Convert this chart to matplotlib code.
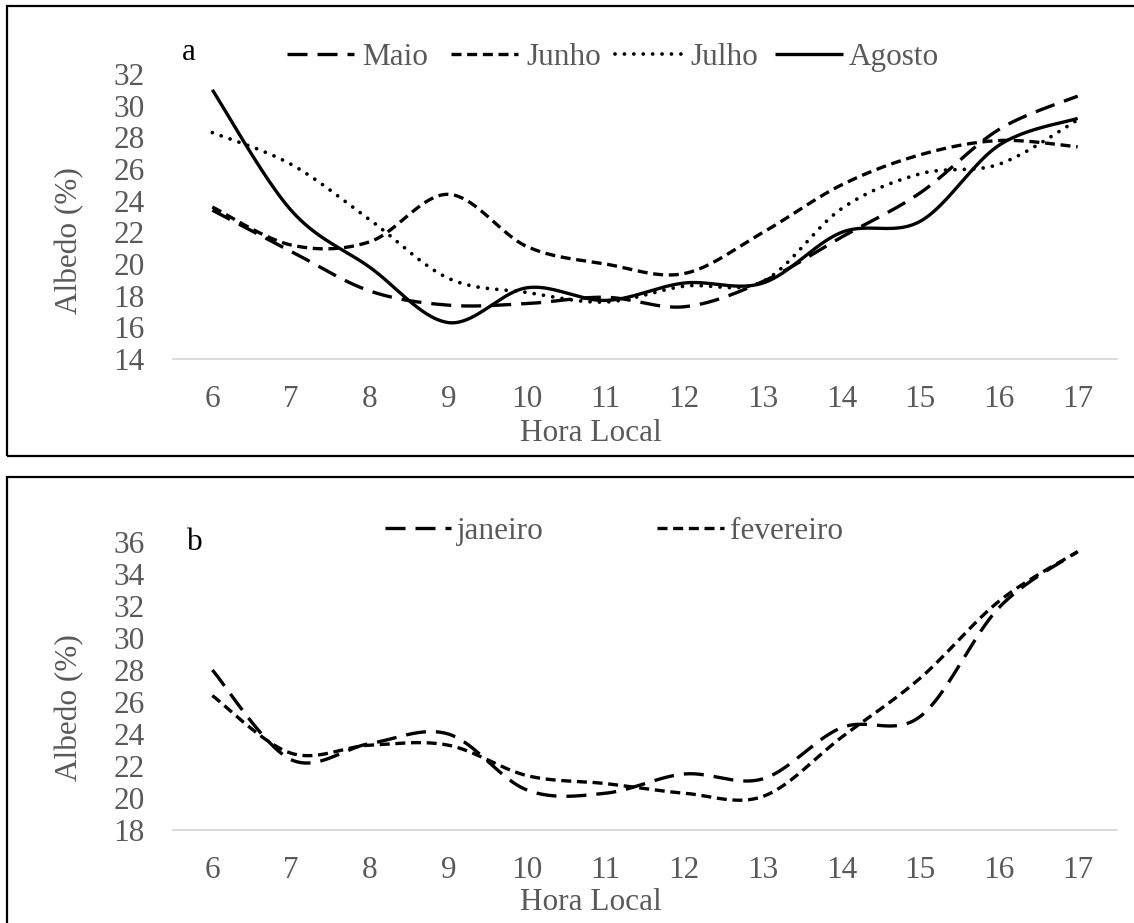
import numpy as np
import matplotlib
matplotlib.use("Agg")
import matplotlib.pyplot as plt
from matplotlib.lines import Line2D
from matplotlib.patches import Rectangle

# ---- data -------------------------------------------------------------
hours = list(range(6, 18))

# panel a (dry season months)
maio = [23.4, 20.8, 18.3, 17.4, 17.5, 17.9, 17.3, 18.9, 21.7, 24.5, 28.5, 30.6]
junho = [23.6, 21.2, 21.4, 24.4, 21.1, 20.0, 19.4, 22.0, 25.0, 26.9, 27.8, 27.4]
julho = [28.3, 26.3, 22.8, 19.1, 18.2, 17.6, 18.6, 18.9, 23.5, 25.7, 26.3, 29.1]
agosto = [31.0, 23.4, 19.8, 16.3, 18.5, 17.7, 18.8, 18.8, 22.0, 22.7, 27.5, 29.2]

# panel b (wet season months)
janeiro = [28.0, 22.4, 23.4, 24.0, 20.5, 20.3, 21.5, 21.2, 24.4, 25.1, 31.9, 35.4]
fevereiro = [26.4, 22.8, 23.3, 23.3, 21.4, 20.9, 20.3, 20.1, 23.8, 27.5, 32.3, 35.4]

yticks_a = list(range(14, 33, 2))
yticks_b = list(range(18, 37, 2))

# ---- styling ----------------------------------------------------------
plt.rcParams["font.family"] = ["Liberation Serif", "DejaVu Serif"]
FS = 22.5
GRAY = "#595959"
LW = 2.4

STYLES = {
    "long": dict(lw=LW, dashes=(6, 3)),
    "short": dict(lw=LW, dashes=(3, 1.7)),
    "dot": dict(lw=2.7, dashes=(0.01, 2.5), dash_capstyle="round"),
    "solid": dict(lw=LW, linestyle="-"),
}

W, H, DPI = 1134, 923, 100
fig = plt.figure(figsize=(W / DPI, H / DPI), dpi=DPI)
fig.patch.set_facecolor("white")


def fx(px):
    return px / W


def fy(py):
    return 1 - py / H


def smooth(x, y, n=40):
    """Smoothed line through the points (cubic Bezier, Catmull-Rom tangents)."""
    P = np.column_stack([np.asarray(x, float), np.asarray(y, float)])
    E = np.vstack([P[0], P, P[-1]])
    t = np.linspace(0, 1, n)[:, None]
    parts = []
    for i in range(len(P) - 1):
        p0, p1, p2, p3 = E[i], E[i + 1], E[i + 2], E[i + 3]
        c1 = p1 + (p2 - p0) / 6.0
        c2 = p2 - (p3 - p1) / 6.0
        seg = ((1 - t) ** 3) * p1 + 3 * ((1 - t) ** 2) * t * c1 \
            + 3 * (1 - t) * t ** 2 * c2 + t ** 3 * p2
        parts.append(seg if i == 0 else seg[1:])
    s = np.vstack(parts)
    return s[:, 0], s[:, 1]


def make_axes(top_px, bottom_px, yticks):
    ax = fig.add_axes([fx(173), fy(bottom_px), (1117 - 173) / W,
                       (bottom_px - top_px) / H])
    ax.set_xlim(5.5, 17.5)
    ax.set_ylim(yticks[0], yticks[-1])
    for s in ("top", "right", "left"):
        ax.spines[s].set_visible(False)
    ax.spines["bottom"].set_color("#d9d9d9")
    ax.spines["bottom"].set_linewidth(1.3)
    ax.set_xticks(hours)
    ax.set_yticks(yticks)
    ax.tick_params(axis="both", length=0, labelsize=FS, colors=GRAY)
    ax.tick_params(axis="x", pad=18.5)
    ax.tick_params(axis="y", pad=20.5)
    ax.patch.set_alpha(0)
    return ax


def draw_series(ax, values, style):
    xs, ys = smooth(hours, values)
    ax.plot(xs, ys, color="black", clip_on=False,
            solid_capstyle="butt", **STYLES[style])


def legend_entry(x0, x1, y, text_x, baseline, label, style):
    fig.add_artist(Line2D([fx(x0), fx(x1)], [fy(y), fy(y)], color="black",
                          solid_capstyle="butt", **STYLES[style]))
    fig.text(fx(text_x), fy(baseline), label, fontsize=FS, color=GRAY,
             ha="left", va="baseline")


def frame(x0, y0, x1, y1):
    fig.add_artist(Rectangle((fx(x0), fy(y1)), fx(x1) - fx(x0), fy(y0) - fy(y1),
                             fill=False, edgecolor="black", lw=1.6,
                             transform=fig.transFigure))


# ---- panel a ----------------------------------------------------------
frame(7, 6, 1140, 456)
ax_a = make_axes(74, 359, yticks_a)
for vals, st in ((maio, "long"), (junho, "short"), (julho, "dot"), (agosto, "solid")):
    draw_series(ax_a, vals, st)

fig.text(fx(182), fy(60), "a", fontsize=FS, color="black", ha="left", va="baseline")
legend_entry(287, 354, 54, 362, 65, "Maio", "long")
legend_entry(451, 518, 54, 526, 65, "Junho", "short")
legend_entry(615, 681, 54, 690, 65, "Julho", "dot")
legend_entry(775, 843, 54, 849, 65, "Agosto", "solid")

fig.text(fx(70), fy(241), "Albedo (%)", rotation=90, fontsize=FS, color=GRAY,
         ha="center", va="center")
fig.text(fx(591), fy(433), "Hora Local", fontsize=FS, color=GRAY,
         ha="center", va="center")

# ---- panel b ----------------------------------------------------------
frame(7, 477, 1140, 935)
ax_b = make_axes(542, 830, yticks_b)
for vals, st in ((janeiro, "long"), (fevereiro, "short")):
    draw_series(ax_b, vals, st)

fig.text(fx(187), fy(550), "b", fontsize=FS, color="black", ha="left", va="baseline")
legend_entry(385, 451, 528, 457, 539, "janeiro", "long")
legend_entry(657, 724, 528, 730, 539, "fevereiro", "short")

fig.text(fx(70), fy(708), "Albedo (%)", rotation=90, fontsize=FS, color=GRAY,
         ha="center", va="center")
fig.text(fx(591), fy(903), "Hora Local", fontsize=FS, color=GRAY,
         ha="center", va="center")

fig.savefig("out.png", dpi=DPI, facecolor="white")
